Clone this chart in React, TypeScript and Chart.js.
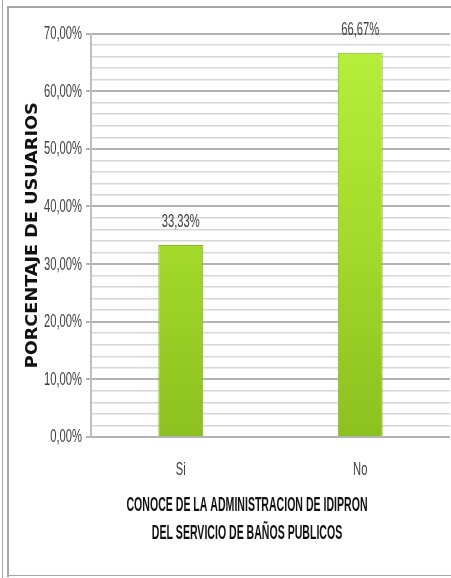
import React, { useEffect, useRef } from "react";
import { Chart, registerables } from "chart.js";

Chart.register(...registerables);

const categories = ["Si", "No"];
const values = [33.33, 66.67];
const yMax = 70;
const yStep = 2;
const yMajor = 10;
const yTitle = "PORCENTAJE DE USUARIOS";
const xTitle = ["CONOCE DE LA ADMINISTRACION DE IDIPRON", "DEL SERVICIO DE BAÑOS PUBLICOS"];

const fmt = (v: number) => v.toFixed(2).replace(".", ",") + "%";

const BODY_FONT = "18px 'Liberation Sans', Arial, sans-serif";
const XTITLE_FONT = "bold 20px 'Liberation Sans', Arial, sans-serif";
const YTITLE_FONT = "bold 16px 'DejaVu Sans', sans-serif";

function drawScaled(
  ctx: CanvasRenderingContext2D,
  text: string,
  x: number,
  y: number,
  sx: number,
  align: CanvasTextAlign,
  rot = 0
) {
  ctx.save();
  ctx.translate(x, y);
  if (rot) ctx.rotate(rot);
  ctx.scale(sx, 1);
  ctx.textAlign = align;
  ctx.textBaseline = "middle";
  ctx.fillText(text, 0, 0);
  ctx.restore();
}

const textPlugin = {
  id: "texts",
  afterDraw(chart: any) {
    const ctx: CanvasRenderingContext2D = chart.ctx;
    const area = chart.chartArea;
    const yScale = chart.scales.y;
    const xScale = chart.scales.x;
    ctx.save();

    ctx.font = BODY_FONT;
    const bodySx = 38 / ctx.measureText(fmt(70)).width;
    ctx.fillStyle = "#404040";
    for (let v = 0; v <= yMax; v += yMajor) {
      drawScaled(ctx, fmt(v), area.left - 9, yScale.getPixelForValue(v) + 0.5, bodySx, "right");
    }
    categories.forEach((c, i) => {
      drawScaled(ctx, c, xScale.getPixelForValue(i), area.bottom + 33, bodySx, "center");
    });
    const meta = chart.getDatasetMeta(0);
    meta.data.forEach((el: any, i: number) => {
      drawScaled(ctx, fmt(values[i]), el.x, el.y - 23, bodySx, "center");
    });

    ctx.font = XTITLE_FONT;
    ctx.fillStyle = "#111111";
    const xsx = 241 / ctx.measureText(xTitle[0]).width;
    xTitle.forEach((line, i) => {
      drawScaled(ctx, line, 247, area.bottom + 68 + i * 28, xsx, "center");
    });

    ctx.font = YTITLE_FONT;
    const ysx = 266 / ctx.measureText(yTitle).width;
    drawScaled(ctx, yTitle, 33, (area.top + area.bottom) / 2, ysx, "center", -Math.PI / 2);

    ctx.restore();
  },
};

export default function App() {
  const ref = useRef<HTMLCanvasElement>(null);
  useEffect(() => {
    if (!ref.current) return;
    const chart = new Chart(ref.current, {
      type: "bar",
      data: {
        labels: categories,
        datasets: [
          {
            data: values,
            backgroundColor: (c: any) => {
              const { chart } = c;
              const area = chart.chartArea;
              if (!area) return "#a2d62c";
              const g = chart.ctx.createLinearGradient(0, area.top, 0, area.bottom);
              g.addColorStop(0, "#b8f03e");
              g.addColorStop(0.5, "#a4db2c");
              g.addColorStop(1, "#8cc020");
              return g;
            },
            borderColor: "#86b81e",
            borderWidth: 1,
            barPercentage: 0.25,
            categoryPercentage: 1,
          },
        ],
      },
      options: {
        animation: false,
        responsive: false,
        maintainAspectRatio: false,
        layout: { padding: { left: 8, right: 1, top: 33.5, bottom: 0 } },
        plugins: { legend: { display: false }, tooltip: { enabled: false } },
        scales: {
          x: {
            grid: { display: false },
            border: { display: false },
            ticks: { display: false },
            afterFit: (s: any) => {
              s.height = 141;
            },
          },
          y: {
            min: 0,
            max: yMax,
            border: { display: true, color: "#bfbfbf", width: 2 },
            grid: {
              color: (c: any) => (c.tick && c.tick.value % yMajor === 0 ? "#b3b3b3" : "#d6d6d6"),
              lineWidth: (c: any) => (c.tick && c.tick.value % yMajor === 0 ? 2 : 1.5),
              tickColor: (c: any) =>
                c.tick && c.tick.value % yMajor === 0 ? "#b3b3b3" : "rgba(0,0,0,0)",
              tickLength: 5,
            },
            ticks: {
              stepSize: yStep,
              autoSkip: false,
              display: false,
            },
            afterFit: (s: any) => {
              s.width = 83;
            },
          },
        },
      },
      plugins: [textPlugin],
    });
    return () => chart.destroy();
  }, []);
  const line = (style: React.CSSProperties) => (
    <div style={{ position: "absolute", background: "#a6a6a6", ...style }} />
  );
  return (
    <div style={{ position: "fixed", left: 0, top: 0, width: 451, height: 578, background: "#fff" }}>
      <canvas ref={ref} width={451} height={578} style={{ position: "absolute", left: 0, top: 0 }} />
      {line({ left: 2, top: 0, width: 1, height: 578 })}
      {line({ left: 7, top: 6, width: 2, height: 571 })}
      {line({ left: 7, top: 6, width: 444, height: 2 })}
      {line({ left: 7, top: 575, width: 444, height: 1 })}
    </div>
  );
}
